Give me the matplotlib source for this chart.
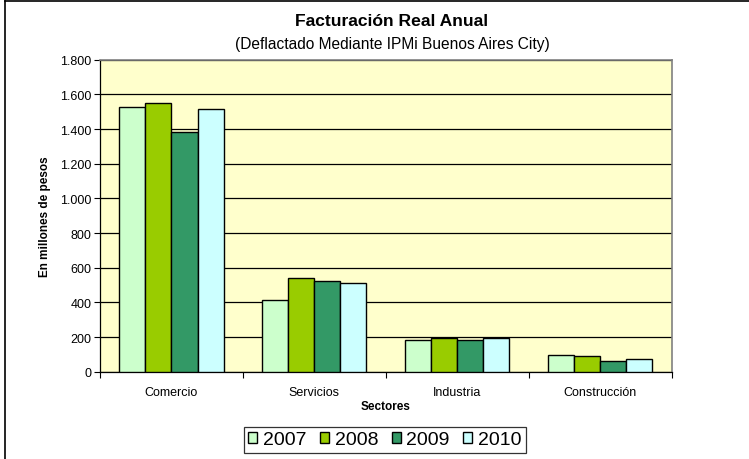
import numpy as np
import matplotlib.pyplot as plt
from matplotlib.ticker import FuncFormatter
from matplotlib.lines import Line2D

plt.rcParams['font.family'] = ['Liberation Sans', 'DejaVu Sans']

# ── datos ─────────────────────────────────────────────
sectores = ["Comercio", "Servicios", "Industria", "Construcción"]
anios = ["2007", "2008", "2009", "2010"]
v2007 = [1526, 412, 183, 98]
v2008 = [1551, 539, 194, 91]
v2009 = [1385, 525, 183, 62]
v2010 = [1514, 512, 194, 71]
valores = [v2007, v2008, v2009, v2010]
colores = ["#CCFFCC", "#99CC00", "#339966", "#CCFFFF"]

fig = plt.figure(figsize=(7.49, 4.60), dpi=100)
ax = fig.add_axes([100 / 749, 1 - 372.7 / 460, 571.7 / 749, 312 / 460])
ax.set_facecolor("#FFFFCC")

x = np.arange(len(sectores))
ancho = 0.729 / 4
for i, (vals, col) in enumerate(zip(valores, colores)):
    ax.bar(x + (i - 1.5) * ancho, vals, width=ancho, color=col,
           edgecolor="black", linewidth=1.0, label=anios[i], zorder=3)

ax.set_xlim(-0.5, len(sectores) - 0.5)
ax.set_ylim(0, 1800)
ax.set_yticks(np.arange(0, 1801, 200))
ax.yaxis.set_major_formatter(FuncFormatter(lambda v, p: f"{int(v):,}".replace(",", ".")))
ax.grid(axis="y", color="black", linewidth=0.9, zorder=1)
ax.set_axisbelow(True)

ax.set_xticks(x)
ax.set_xticklabels(sectores, fontsize=9)
ax.set_xticks(np.arange(-0.5, len(sectores)), minor=True)
ax.tick_params(axis="x", which="major", length=0, pad=10)
ax.tick_params(axis="x", which="minor", length=4, width=0.8, color="black")
ax.tick_params(axis="y", length=4, width=0.8, labelsize=9, pad=2)

for s in ["top", "right"]:
    ax.spines[s].set_color("#808080")
    ax.spines[s].set_linewidth(1.2)
for s in ["left", "bottom"]:
    ax.spines[s].set_color("black")
    ax.spines[s].set_linewidth(0.9)

ax.set_xlabel("Sectores", fontsize=8.5, fontweight="bold", labelpad=2)
ax.set_ylabel("En millones de pesos", fontsize=8.5, fontweight="bold", labelpad=7)

fig.text(392 / 749, 1 - 21 / 460, "Facturación Real Anual", ha="center", va="center",
         fontsize=12.6, fontweight="bold")
fig.text(392 / 749, 1 - 45 / 460, "(Deflactado Mediante IPMi Buenos Aires City)",
         ha="center", va="center", fontsize=11.2)

leg = fig.legend(loc="center", bbox_to_anchor=(385 / 749, 1 - 441 / 460), ncol=4,
                 fontsize=14, frameon=True, fancybox=False, handlelength=0.45,
                 handleheight=0.45, handletextpad=0.3, columnspacing=0.7,
                 borderpad=0.25, edgecolor="black")
leg.get_frame().set_linewidth(0.9)

# marco exterior del gráfico
fig.add_artist(Line2D([5 / 749, 5 / 749], [0, 1 - 2 / 460], color="black", lw=1.2))
fig.add_artist(Line2D([5 / 749, 1], [1 - 2 / 460, 1 - 2 / 460], color="black", lw=1.2))

fig.savefig("out.png", dpi=100)
